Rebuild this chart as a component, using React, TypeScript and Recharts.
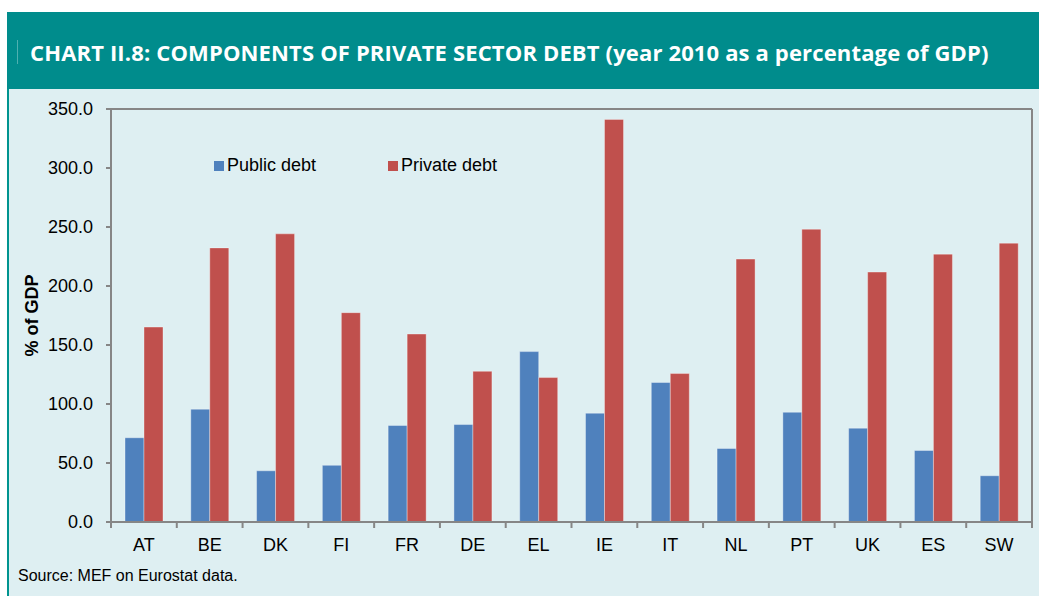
import { BarChart, Bar, XAxis, YAxis, Legend } from 'recharts';

const countries = ['AT', 'BE', 'DK', 'FI', 'FR', 'DE', 'EL', 'IE', 'IT', 'NL', 'PT', 'UK', 'ES', 'SW'];
const publicDebt = [71.4, 95.6, 43.4, 48.0, 81.8, 82.6, 144.4, 92.2, 118.2, 62.3, 93.0, 79.5, 60.6, 39.2];
const privateDebt = [165.2, 232.3, 244.2, 177.4, 159.3, 127.7, 122.4, 341.2, 125.8, 222.8, 248.1, 211.8, 227.0, 236.3];
const seriesNames = ['Public debt', 'Private debt'];
const yTicks = [0, 50, 100, 150, 200, 250, 300, 350];

const data = countries.map((c, i) => ({ name: c, pub: publicDebt[i], priv: privateDebt[i] }));

const BLUE = '#4F81BD';
const RED = '#C0504D';
const AXIS = '#868686';
const FONT = '"Liberation Sans", Arial, sans-serif';
const X_TICK_SIZE = 5;
const X_TICK_MARGIN = 11;

// category label plus a tick mark on the left boundary of each band (and the last right one)
function CategoryTick(props: any) {
  const { x, y, payload, index, visibleTicksCount } = props;
  const half = payload && payload.offset ? payload.offset : 32.9;
  const axisY = y - X_TICK_SIZE - X_TICK_MARGIN;
  return (
    <g>
      <line x1={x - half} x2={x - half} y1={axisY} y2={axisY + 6} stroke={AXIS} strokeWidth={2} />
      {index === visibleTicksCount - 1 && (
        <line x1={x + half} x2={x + half} y1={axisY} y2={axisY + 6} stroke={AXIS} strokeWidth={2} />
      )}
      <text x={x} y={y} dy="0.71em" textAnchor="middle" fill="#000" fontSize={18} fontFamily={FONT}>
        {payload.value}
      </text>
    </g>
  );
}

function LegendBox({ payload }: any) {
  const items = [...(payload || [])].sort(
    (a: any, b: any) => seriesNames.indexOf(a.value) - seriesNames.indexOf(b.value)
  );
  return (
    <div style={{ display: 'flex', fontFamily: FONT, fontSize: 18, color: '#000' }}>
      {items.map((p: any, i: number) => (
        <div key={p.value} style={{ display: 'flex', alignItems: 'center', marginRight: i === 0 ? 72 : 0 }}>
          <span style={{ width: 10, height: 10, background: p.color, display: 'inline-block', marginRight: 3 }} />
          <span>{p.value}</span>
        </div>
      ))}
    </div>
  );
}

export default function App() {
  return (
    <div style={styles.page}>
      <div style={styles.header}>
        <div style={styles.sep} />
        <div style={styles.title}>
          CHART II.8: COMPONENTS OF PRIVATE SECTOR DEBT (year 2010 as a percentage of GDP)
        </div>
      </div>
      <div style={styles.panel} />
      <div style={{ position: 'absolute', left: 0, top: 0 }}>
        <BarChart
          width={1039}
          height={596}
          data={data}
          margin={{ top: 108, right: 6, bottom: 43, left: 31 }}
          barGap={0}
          barSize={19}
        >
          <XAxis
            dataKey="name"
            axisLine={{ stroke: AXIS, strokeWidth: 2 }}
            tickLine={false}
            tickSize={X_TICK_SIZE}
            tickMargin={X_TICK_MARGIN}
            tick={<CategoryTick />}
            interval={0}
            height={31}
          />
          <XAxis
            xAxisId="top"
            orientation="top"
            dataKey="name"
            tick={false}
            tickLine={false}
            axisLine={{ stroke: AXIS, strokeWidth: 2 }}
            height={1}
          />
          <YAxis
            domain={[0, 350]}
            ticks={yTicks}
            interval={0}
            tickFormatter={(v: number) => v.toFixed(1)}
            axisLine={{ stroke: AXIS, strokeWidth: 2 }}
            tickLine={{ stroke: AXIS, strokeWidth: 2 }}
            tickSize={5}
            tickMargin={13}
            tick={{ fill: '#000', fontSize: 18, fontFamily: FONT }}
            width={80}
            label={{
              value: '% of GDP',
              angle: -90,
              position: 'center',
              dx: -39,
              style: { fontFamily: FONT, fontSize: 18, fontWeight: 'bold', fill: '#000' },
            }}
          />
          <YAxis
            yAxisId="right"
            orientation="right"
            domain={[0, 350]}
            tick={false}
            tickLine={false}
            axisLine={{ stroke: AXIS, strokeWidth: 2 }}
            width={1}
          />
          <Legend
            layout="horizontal"
            verticalAlign="middle"
            align="center"
            content={<LegendBox />}
            wrapperStyle={{ top: 155, left: 214, width: 'auto' }}
          />
          <Bar dataKey="pub" name={seriesNames[0]} fill={BLUE} stroke="rgba(255,255,255,0.35)" isAnimationActive={false} />
          <Bar dataKey="priv" name={seriesNames[1]} fill={RED} stroke="rgba(255,255,255,0.35)" isAnimationActive={false} />
        </BarChart>
      </div>
      <div style={styles.source}>Source: MEF on Eurostat data.</div>
    </div>
  );
}

const styles = {
  page: {
    position: 'absolute' as const,
    left: 0,
    top: 0,
    width: 1039,
    height: 596,
    background: '#fff',
    overflow: 'hidden' as const,
  },
  header: {
    position: 'absolute' as const,
    left: 7,
    top: 12,
    width: 1032,
    height: 77,
    background: '#008C8C',
  },
  sep: {
    position: 'absolute' as const,
    left: 10,
    top: 28,
    width: 1,
    height: 24,
    background: '#4FB0B0',
  },
  title: {
    position: 'absolute' as const,
    left: 23,
    top: 25,
    color: '#fff',
    fontFamily: '"Open Sans", sans-serif',
    fontWeight: 'bold' as const,
    fontSize: 22,
    letterSpacing: 0.15,
    whiteSpace: 'nowrap' as const,
  },
  panel: {
    position: 'absolute' as const,
    left: 7,
    top: 89,
    width: 1032,
    height: 507,
    background: '#DEEFF2',
    borderLeft: '2px solid #00948F',
    boxSizing: 'border-box' as const,
  },
  source: {
    position: 'absolute' as const,
    left: 18,
    top: 567,
    fontFamily: FONT,
    fontSize: 16,
    color: '#000',
  },
};
